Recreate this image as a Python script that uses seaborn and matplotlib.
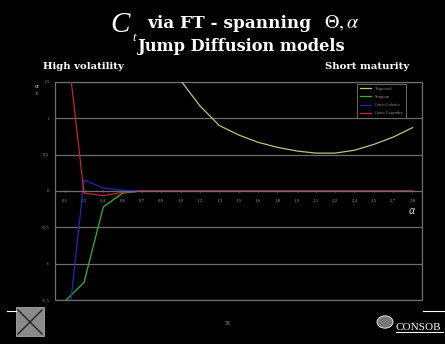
import seaborn as sns
import pandas as pd
import matplotlib.pyplot as plt
from matplotlib.lines import Line2D
from matplotlib.patches import Rectangle, Circle

# data (alpha on x, error on y)
alpha = [0.1, 0.25, 0.4, 0.55, 0.7, 0.85, 1.0, 1.15, 1.3, 1.45,
         1.6, 1.75, 1.9, 2.05, 2.2, 2.35, 2.5, 2.65, 2.8]
alpha_labels = ["0,1", "0,3", "0,4", "0,6", "0,7", "0,9", "1,0", "1,2", "1,3", "1,5",
                "1,6", "1,8", "1,9", "2,1", "2,2", "2,4", "2,5", "2,7", "2,8"]
trapezoid = [12.0, 8.0, 5.5, 3.8, 2.7, 2.0, 1.52, 1.17, 0.90, 0.77,
             0.67, 0.60, 0.55, 0.52, 0.52, 0.56, 0.64, 0.74, 0.87]
simpson = [-1.52, -1.26, -0.22, -0.03, 0.0, 0.0, 0.0, 0.0, 0.0, 0.0,
           0.0, 0.0, 0.0, 0.0, 0.0, 0.0, 0.0, 0.0, 0.0]
gauss_lobatto = [-2.3, 0.15, 0.04, 0.01, 0.0, 0.0, 0.0, 0.0, 0.0, 0.0,
                 0.0, 0.0, 0.0, 0.0, 0.0, 0.0, 0.0, 0.0, 0.0]
gauss_legendre = [2.3, -0.03, -0.065, -0.02, 0.0, 0.0, 0.0, 0.0, 0.0, 0.0,
                  0.0, 0.0, 0.0, 0.0, 0.0, 0.0, 0.0, 0.0, 0.0]
y_ticks = [-1.5, -1, -0.5, 0, 0.5, 1, 1.5]
y_labels = ["-1,5", "-1", "-0,5", "0", "0,5", "1", "1,5"]

series = ["Trapezoid", "Simpson", "Gauss-Lobatto", "Gauss-Legendre"]
df = pd.DataFrame({
    "alpha": alpha * 4,
    "err": trapezoid + simpson + gauss_lobatto + gauss_legendre,
    "method": [s for s in series for _ in alpha],
})
palette = {"Trapezoid": "#c4c275", "Simpson": "#2fb52f",
           "Gauss-Lobatto": "#2626b8", "Gauss-Legendre": "#c4262a"}

plt.rcParams["font.family"] = ["Liberation Serif", "DejaVu Serif"]
fig = plt.figure(figsize=(4.45, 3.44), dpi=100, facecolor="black")
ax = fig.add_axes([0.1236, 0.128, 0.825, 0.634], facecolor="black")

sns.lineplot(data=df, x="alpha", y="err", hue="method", hue_order=series,
             palette=palette, linewidth=0.9, ax=ax)

ax.set_xlim(0.025, 2.875)
ax.set_ylim(-1.5, 1.5)
ax.set_yticks(y_ticks, y_labels)
ax.set_xticks(alpha, alpha_labels)
ax.set_xlabel("")
ax.set_ylabel("")
ax.grid(axis="y", color="#6e6e6e", linewidth=0.9)
ax.set_axisbelow(True)
ax.tick_params(axis="y", length=0, labelsize=3.5, labelcolor="#9a9a9a", pad=4)
ax.tick_params(axis="x", length=2, direction="inout", color="#8a6a40",
               labelsize=3.5, labelcolor="#9a9a9a", pad=5)
for s in ["top", "left", "right"]:
    ax.spines[s].set_visible(False)
ax.spines["bottom"].set_position(("data", 0))
ax.spines["bottom"].set_color("#6e6e6e")
ax.add_patch(Rectangle((0, 0), 1, 1, transform=ax.transAxes, fill=False,
                       edgecolor="#6e6e6e", linewidth=0.9, clip_on=False))

leg = ax.legend(loc="upper right", bbox_to_anchor=(0.962, 1.0), fontsize=3.2,
                facecolor="black", edgecolor="#777777", framealpha=1,
                fancybox=False, handlelength=2.5, labelspacing=0.9,
                borderpad=0.6)
leg.get_frame().set_linewidth(0.6)
for t in leg.get_texts():
    t.set_color("#8c8c8c")

ax.text(2.8, -0.28, r"$\alpha$", color="#d0d0d0", fontsize=7,
        ha="center", va="center")

# titles
W, H = 445.0, 344.0
def fx(x): return x / W
def fy(y): return 1 - y / H

head = ["DejaVu Serif"]
fig.text(fx(110), fy(32), "C", color="white", fontsize=21, style="italic", va="baseline")
fig.text(fx(132), fy(41), "t", color="white", fontsize=9, style="italic", va="baseline")
fig.text(fx(147), fy(28), "via FT - spanning", color="white", fontsize=12.2,
         weight="bold", va="baseline", family=head)
fig.text(fx(324), fy(28), r"$\Theta,\alpha$", color="white", fontsize=14.5,
         va="baseline", math_fontfamily="stix")
fig.text(fx(241), fy(51), "Jump Diffusion models", color="white", fontsize=11.7,
         weight="bold", va="baseline", ha="center", family=head)
fig.text(fx(43), fy(69), "High volatility", color="white", fontsize=7.3,
         weight="bold", va="baseline", family=head)
fig.text(fx(325), fy(69), "Short maturity", color="white", fontsize=7.3,
         weight="bold", va="baseline", family=head)
fig.text(fx(37), fy(84), "er\nr", color="#b0b0b0", fontsize=5, ha="center",
         va="top", linespacing=1.6)

# footer
fig.add_artist(Line2D([fx(7), fx(16)], [fy(311), fy(311)], color="white", lw=0.8))
fig.add_artist(Line2D([fx(423), fx(445)], [fy(311), fy(311)], color="white", lw=0.8))
fig.add_artist(Rectangle((fx(16), fy(336)), fx(28), 29 / H, facecolor="#8a8a8a",
                         edgecolor="#bbbbbb", lw=0.5))
fig.add_artist(Line2D([fx(18), fx(42)], [fy(310), fy(334)], color="#222222", lw=1))
fig.add_artist(Line2D([fx(18), fx(42)], [fy(334), fy(310)], color="#222222", lw=1))
fig.text(fx(228), fy(325), "58", color="#a0a0a0", fontsize=4, ha="center")
fig.add_artist(Circle((fx(385), fy(322)), 8 / W, facecolor="#777777",
                      edgecolor="white", lw=0.6))
fig.text(fx(396), fy(330), "CONSOB", color="white", fontsize=8, va="baseline")
fig.add_artist(Line2D([fx(396), fx(443)], [fy(332), fy(332)], color="white", lw=0.8))

fig.savefig("out.png", dpi=100, facecolor="black")
